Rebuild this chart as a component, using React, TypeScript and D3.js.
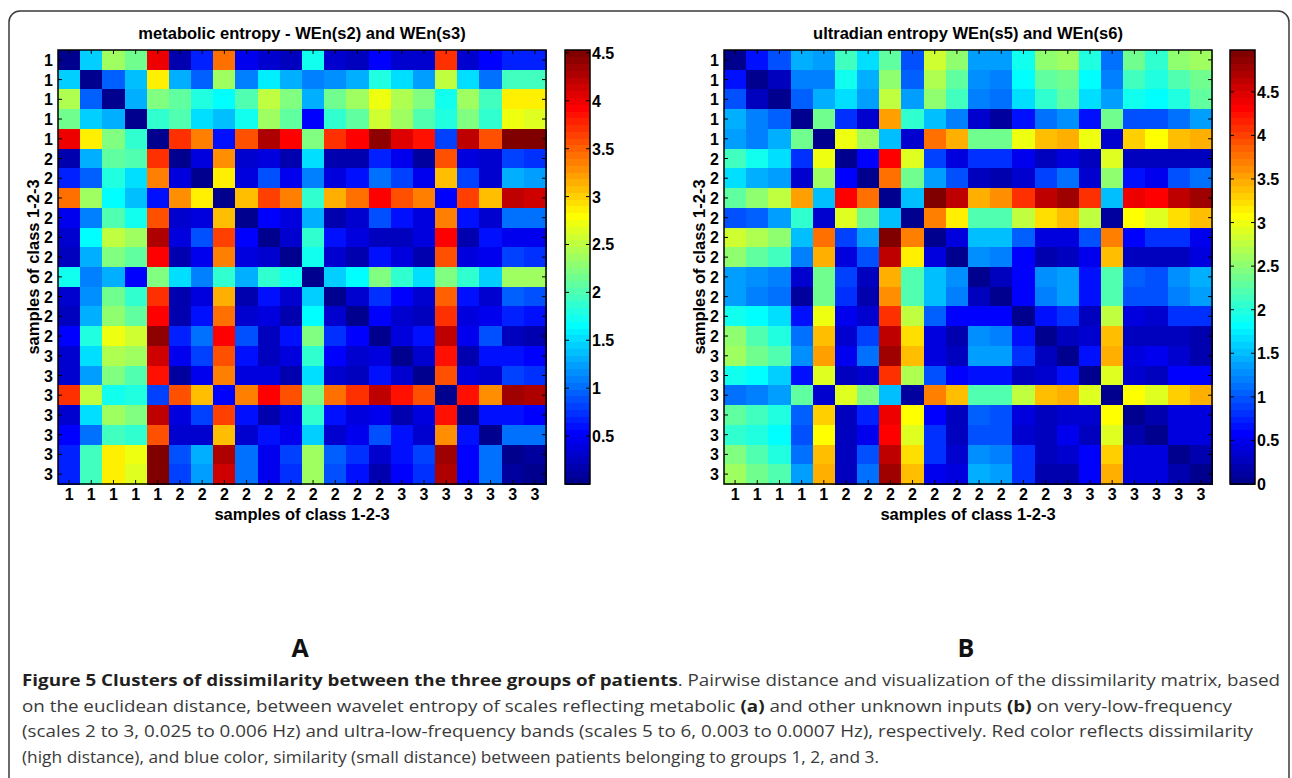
import * as d3 from "d3";
import { useEffect, useRef } from "react";

// sample class of each row / column (22 patients)
const classLabels = ["1", "1", "1", "1", "1", "2", "2", "2", "2", "2", "2", "2", "2", "2", "2", "3", "3", "3", "3", "3", "3", "3"];

// pairwise distance, WEn(s2) and WEn(s3)
const metabolicRows: number[][] = [
  [0, 1.45, 2.4, 2.15, 4.0, 0.15, 0.65, 3.4, 0.45, 0.3, 0.25, 1.7, 0.35, 0.25, 0.5, 0.35, 0.35, 3.7, 0.3, 0.5, 0.65, 0.65],
  [1.45, 0, 0.95, 1.4, 2.9, 1.3, 0.95, 2.35, 1.13, 1.6, 1.3, 1.1, 1.2, 1.3, 1.8, 1.5, 1.25, 2.5, 1.5, 1.0, 1.95, 1.95],
  [2.45, 0.95, 0, 1.3, 2.2, 2.1, 1.8, 1.65, 2.0, 2.5, 2.25, 1.3, 2.15, 2.35, 2.7, 2.45, 2.2, 1.7, 2.4, 1.95, 2.85, 2.85],
  [2.15, 1.45, 1.3, 0, 1.85, 2.0, 1.55, 1.4, 1.75, 2.4, 2.1, 0.5, 1.85, 2.1, 2.55, 2.35, 2.0, 1.8, 2.25, 1.85, 2.7, 2.65],
  [4.0, 2.9, 2.2, 1.85, 0, 3.7, 3.35, 0.6, 3.55, 4.25, 3.9, 2.25, 3.7, 3.9, 4.45, 4.1, 3.85, 0.8, 4.2, 3.6, 4.53, 4.53],
  [0.15, 1.3, 2.1, 2.0, 3.7, 0, 0.4, 3.3, 0.35, 0.4, 0.2, 1.5, 0.2, 0.2, 0.65, 0.45, 0.1, 3.55, 0.4, 0.3, 0.8, 0.75],
  [0.65, 0.95, 1.8, 1.55, 3.35, 0.4, 0, 2.9, 0.4, 0.9, 0.45, 1.1, 0.4, 0.6, 1.05, 0.8, 0.45, 3.1, 0.8, 0.3, 1.3, 1.25],
  [3.4, 2.35, 1.65, 1.4, 0.6, 3.3, 2.9, 0, 3.05, 3.65, 3.35, 1.85, 3.15, 3.4, 3.9, 3.6, 3.35, 0.55, 3.65, 3.1, 4.2, 4.15],
  [0.45, 1.13, 2.0, 1.75, 3.55, 0.35, 0.4, 3.05, 0, 0.55, 0.4, 1.3, 0.2, 0.35, 0.9, 0.6, 0.4, 3.35, 0.6, 0.35, 1.05, 1.0],
  [0.3, 1.65, 2.5, 2.4, 4.25, 0.4, 0.9, 3.65, 0.55, 0, 0.35, 1.9, 0.6, 0.4, 0.25, 0.25, 0.4, 3.95, 0.2, 0.6, 0.45, 0.45],
  [0.25, 1.3, 2.25, 2.1, 3.9, 0.2, 0.45, 3.35, 0.4, 0.35, 0, 1.7, 0.3, 0.2, 0.6, 0.4, 0.2, 3.6, 0.4, 0.45, 0.8, 0.75],
  [1.7, 1.1, 1.3, 0.5, 2.25, 1.5, 1.1, 1.85, 1.3, 1.9, 1.7, 0, 1.45, 1.65, 2.2, 1.85, 1.55, 2.25, 1.85, 1.45, 2.35, 2.35],
  [0.35, 1.2, 2.15, 1.85, 3.7, 0.2, 0.4, 3.15, 0.2, 0.6, 0.3, 1.45, 0, 0.35, 0.75, 0.5, 0.3, 3.5, 0.6, 0.35, 0.95, 0.9],
  [0.25, 1.3, 2.3, 2.1, 3.9, 0.2, 0.6, 3.4, 0.35, 0.4, 0.2, 1.65, 0.35, 0, 0.55, 0.35, 0.25, 3.75, 0.4, 0.45, 0.7, 0.6],
  [0.5, 1.8, 2.7, 2.55, 4.45, 0.65, 1.05, 3.9, 0.9, 0.25, 0.6, 2.2, 0.75, 0.55, 0, 0.4, 0.6, 4.2, 0.45, 0.9, 0.25, 0.2],
  [0.35, 1.5, 2.45, 2.35, 4.15, 0.45, 0.8, 3.6, 0.6, 0.25, 0.4, 1.85, 0.5, 0.35, 0.4, 0, 0.3, 3.85, 0.2, 0.6, 0.6, 0.5],
  [0.35, 1.25, 2.2, 2.0, 3.85, 0.1, 0.45, 3.35, 0.4, 0.4, 0.2, 1.55, 0.3, 0.25, 0.6, 0.3, 0, 3.55, 0.4, 0.35, 0.8, 0.75],
  [3.7, 2.5, 1.7, 1.8, 0.8, 3.55, 3.1, 0.55, 3.35, 3.95, 3.6, 2.25, 3.45, 3.75, 4.2, 3.85, 3.55, 0, 3.85, 3.3, 4.35, 4.3],
  [0.3, 1.5, 2.4, 2.25, 4.2, 0.4, 0.8, 3.65, 0.6, 0.2, 0.4, 1.85, 0.6, 0.4, 0.45, 0.2, 0.4, 3.85, 0, 0.6, 0.6, 0.55],
  [0.5, 1.0, 1.95, 1.85, 3.6, 0.3, 0.3, 3.1, 0.35, 0.6, 0.45, 1.45, 0.35, 0.45, 0.9, 0.6, 0.35, 3.3, 0.6, 0, 1.05, 1.0],
  [0.65, 1.95, 2.85, 2.75, 4.53, 0.85, 1.3, 4.25, 1.05, 0.45, 0.8, 2.35, 0.95, 0.75, 0.3, 0.6, 0.8, 4.35, 0.55, 1.05, 0, 0.1],
  [0.65, 1.95, 2.85, 2.65, 4.53, 0.8, 1.25, 4.15, 1.0, 0.45, 0.75, 2.35, 0.9, 0.6, 0.2, 0.5, 0.75, 4.3, 0.55, 1.0, 0.1, 0],
];

// pairwise distance, WEn(s5) and WEn(s6)
const ultradianRows: number[][] = [
  [0, 0.7, 1.0, 1.45, 1.4, 2.15, 1.65, 2.3, 1.0, 2.85, 2.5, 1.35, 1.4, 1.87, 2.5, 2.6, 2.0, 1.15, 2.35, 2.1, 2.5, 2.6],
  [0.7, 0, 0.3, 1.2, 1.2, 1.87, 1.45, 2.55, 1.05, 2.65, 2.3, 1.25, 1.2, 1.8, 2.3, 2.4, 1.85, 1.2, 2.15, 2.0, 2.2, 2.35],
  [1.0, 0.3, 0, 1.05, 1.45, 1.7, 1.35, 2.8, 1.4, 2.55, 2.15, 1.2, 1.15, 1.65, 2.1, 2.3, 1.65, 1.4, 1.9, 1.8, 1.95, 2.3],
  [1.45, 1.2, 1.05, 0, 2.4, 0.8, 0.35, 3.55, 2.1, 1.55, 1.2, 0.35, 0.15, 0.7, 1.15, 1.25, 0.7, 2.35, 1.0, 1.0, 1.15, 1.35],
  [1.4, 1.2, 1.45, 2.4, 0, 3.0, 2.6, 1.55, 0.35, 3.8, 3.45, 2.4, 2.4, 3.0, 3.35, 3.5, 3.0, 0.35, 3.3, 3.1, 3.35, 3.5],
  [2.15, 1.87, 1.7, 0.8, 3.0, 0, 0.6, 4.3, 2.95, 0.9, 0.45, 0.85, 0.8, 0.5, 0.3, 0.45, 0.3, 2.95, 0.25, 0.25, 0.3, 0.3],
  [1.65, 1.45, 1.35, 0.35, 2.6, 0.6, 0, 3.75, 2.35, 1.35, 1.0, 0.25, 0.2, 0.35, 0.9, 1.15, 0.35, 2.5, 0.7, 0.5, 1.0, 1.15],
  [2.3, 2.55, 2.8, 3.55, 1.55, 4.3, 3.75, 0, 1.55, 4.98, 4.6, 3.45, 3.6, 4.05, 4.6, 4.75, 4.1, 1.5, 4.4, 4.3, 4.6, 4.75],
  [1.0, 1.05, 1.4, 2.1, 0.35, 2.95, 2.35, 1.55, 0, 3.7, 3.15, 2.2, 2.2, 2.75, 3.2, 3.4, 2.75, 0.1, 3.1, 2.95, 3.2, 3.4],
  [2.85, 2.65, 2.55, 1.55, 3.8, 0.9, 1.35, 4.98, 3.7, 0, 0.45, 1.55, 1.5, 1.05, 0.45, 0.45, 1.0, 3.7, 0.6, 0.8, 0.8, 0.5],
  [2.5, 2.3, 2.15, 1.2, 3.45, 0.45, 1.0, 4.6, 3.15, 0.45, 0, 1.25, 1.2, 0.6, 0.2, 0.25, 0.5, 3.4, 0.3, 0.3, 0.3, 0.45],
  [1.4, 1.25, 1.2, 0.35, 2.4, 0.9, 0.25, 3.45, 2.2, 1.55, 1.25, 0, 0.3, 0.6, 1.25, 1.4, 0.65, 2.2, 1.05, 1.0, 1.25, 1.45],
  [1.4, 1.2, 1.15, 0.15, 2.35, 0.85, 0.2, 3.6, 2.2, 1.5, 1.2, 0.3, 0, 0.6, 1.2, 1.35, 0.65, 2.2, 1.0, 1.0, 1.2, 1.35],
  [1.87, 1.8, 1.65, 0.7, 3.0, 0.5, 0.35, 4.05, 2.75, 1.05, 0.6, 0.6, 0.6, 0, 0.65, 0.85, 0.3, 2.8, 0.4, 0.35, 0.85, 0.85],
  [2.5, 2.25, 2.0, 1.15, 3.35, 0.35, 0.9, 4.6, 3.2, 0.45, 0.2, 1.25, 1.2, 0.65, 0, 0.25, 0.35, 3.35, 0.3, 0.3, 0.3, 0.2],
  [2.6, 2.4, 2.25, 1.3, 3.55, 0.5, 1.15, 4.75, 3.35, 0.4, 0.3, 1.4, 1.35, 0.85, 0.25, 0, 0.7, 3.45, 0.4, 0.5, 0.35, 0.2],
  [1.9, 1.85, 1.6, 0.7, 2.95, 0.3, 0.35, 4.1, 2.7, 1.0, 0.55, 0.65, 0.65, 0.3, 0.35, 0.7, 0, 2.9, 0.35, 0.25, 0.6, 0.55],
  [1.15, 1.2, 1.4, 2.3, 0.35, 2.95, 2.45, 1.5, 0.1, 3.7, 3.35, 2.2, 2.2, 2.8, 3.35, 3.45, 2.9, 0, 3.1, 2.95, 3.3, 3.45],
  [2.3, 2.15, 1.95, 1.05, 3.3, 0.25, 0.75, 4.4, 3.05, 0.6, 0.3, 1.05, 1.0, 0.45, 0.3, 0.35, 0.35, 3.1, 0, 0.2, 0.45, 0.45],
  [2.1, 1.95, 1.85, 1.0, 3.1, 0.25, 0.5, 4.3, 2.95, 0.8, 0.3, 1.0, 1.0, 0.35, 0.3, 0.5, 0.25, 2.95, 0.2, 0, 0.45, 0.45],
  [2.45, 2.2, 1.95, 1.15, 3.35, 0.3, 0.95, 4.6, 3.2, 0.8, 0.35, 1.25, 1.2, 0.85, 0.3, 0.35, 0.6, 3.3, 0.45, 0.45, 0, 0.2],
  [2.6, 2.35, 2.25, 1.35, 3.5, 0.3, 1.15, 4.75, 3.4, 0.5, 0.45, 1.45, 1.35, 0.85, 0.2, 0.2, 0.55, 3.45, 0.45, 0.45, 0.2, 0],
];

// colour limits and colorbar ticks
const metabolicMax = 4.53;
const ultradianMax = 4.98;
const metabolicTicks = [0.5, 1, 1.5, 2, 2.5, 3, 3.5, 4, 4.5];
const ultradianTicks = [0, 0.5, 1, 1.5, 2, 2.5, 3, 3.5, 4, 4.5];

const captionLines = [
  [
    { t: "Figure 5 Clusters of dissimilarity between the three groups of patients", b: true },
    { t: ". Pairwise distance and visualization of the dissimilarity matrix, based", b: false },
  ],
  [
    { t: "on the euclidean distance, between wavelet entropy of scales reflecting metabolic ", b: false },
    { t: "(a)", b: true },
    { t: " and other unknown inputs ", b: false },
    { t: "(b)", b: true },
    { t: " on very-low-frequency", b: false },
  ],
  [
    { t: "(scales 2 to 3, 0.025 to 0.006 Hz) and ultra-low-frequency bands (scales 5 to 6, 0.003 to 0.0007 Hz), respectively. Red color reflects dissimilarity", b: false },
  ],
  [
    { t: "(high distance), and blue color, similarity (small distance) between patients belonging to groups 1, 2, and 3.", b: false },
  ],
];

const FONT = "'Liberation Sans', Arial, sans-serif";
const CAPTION_FONT = "'Open Sans', 'Noto Sans', sans-serif";

// MATLAB jet(64), i = 1..64
const jet64 = (i: number) => {
  const r = i <= 24 ? 0 : i <= 40 ? (i - 24) / 16 : i <= 56 ? 1 : (72 - i) / 16;
  const g = i <= 8 ? 0 : i <= 24 ? (i - 8) / 16 : i <= 40 ? 1 : (56 - i) / 16;
  const b = i <= 8 ? (i + 8) / 16 : i <= 24 ? 1 : i <= 40 ? (40 - i) / 16 : 0;
  return d3.rgb(r * 255, g * 255, b * 255).formatHex();
};
const jetColors = d3.range(1, 65).map(jet64);

interface PanelOpts {
  rows: number[][];
  max: number;
  ticks: number[];
  title: string;
  left: number;
  barLeft: number;
  letter: string;
}

const TOP = 50;
const BOTTOM = 484;
const MAP_W = 488;

function drawPanel(svg: d3.Selection<SVGSVGElement, unknown, null, undefined>, o: PanelOpts) {
  const n = o.rows.length;
  const x = d3.scaleBand<number>().domain(d3.range(n)).range([o.left, o.left + MAP_W]);
  const y = d3.scaleBand<number>().domain(d3.range(n)).range([TOP, BOTTOM]);
  const color = d3.scaleQuantize<string>().domain([0, o.max]).range(jetColors);
  const cx = o.left + MAP_W / 2;

  const g = svg.append("g");

  // title
  g.append("text")
    .attr("x", cx)
    .attr("y", 39)
    .attr("text-anchor", "middle")
    .attr("font-family", FONT)
    .attr("font-weight", "bold")
    .attr("font-size", 16.5)
    .text(o.title);

  // cells
  const cells = o.rows.flatMap((row, i) => row.map((v, j) => ({ i, j, v })));
  g.append("g")
    .attr("shape-rendering", "crispEdges")
    .selectAll("rect")
    .data(cells)
    .join("rect")
    .attr("x", d => x(d.j)!)
    .attr("y", d => y(d.i)!)
    .attr("width", x.bandwidth() + 0.5)
    .attr("height", y.bandwidth() + 0.5)
    .attr("fill", d => color(d.v));

  // inner ticks
  const bw = x.bandwidth() / 2;
  const bh = y.bandwidth() / 2;
  const tk = g.append("g").attr("stroke", "#000").attr("stroke-width", 1);
  d3.range(n).forEach(k => {
    const tx = x(k)! + bw;
    tk.append("line").attr("x1", tx).attr("x2", tx).attr("y1", TOP).attr("y2", TOP + 4);
    tk.append("line").attr("x1", tx).attr("x2", tx).attr("y1", BOTTOM).attr("y2", BOTTOM - 4);
    const ty = y(k)! + bh;
    tk.append("line").attr("y1", ty).attr("y2", ty).attr("x1", o.left).attr("x2", o.left + 4);
    tk.append("line").attr("y1", ty).attr("y2", ty).attr("x1", o.left + MAP_W).attr("x2", o.left + MAP_W - 4);
  });

  // frame
  g.append("rect")
    .attr("x", o.left)
    .attr("y", TOP)
    .attr("width", MAP_W)
    .attr("height", BOTTOM - TOP)
    .attr("fill", "none")
    .attr("stroke", "#000")
    .attr("stroke-width", 1.5);

  // tick labels
  const lab = g.append("g")
    .attr("font-family", FONT)
    .attr("font-weight", "bold")
    .attr("font-size", 16);
  classLabels.forEach((c, k) => {
    lab.append("text")
      .attr("x", x(k)! + bw)
      .attr("y", BOTTOM + 16)
      .attr("text-anchor", "middle")
      .text(c);
    lab.append("text")
      .attr("x", o.left - 5)
      .attr("y", y(k)! + bh + 6)
      .attr("text-anchor", "end")
      .text(c);
  });

  // axis titles
  lab.append("text")
    .attr("x", cx)
    .attr("y", BOTTOM + 36)
    .attr("font-size", 16.5)
    .attr("text-anchor", "middle")
    .text("samples of class 1-2-3");
  lab.append("text")
    .attr("transform", `translate(${o.left - 19},${(TOP + BOTTOM) / 2}) rotate(-90)`)
    .attr("font-size", 16.5)
    .attr("text-anchor", "middle")
    .text("samples of class 1-2-3");

  // colorbar
  const cb = d3.scaleLinear().domain([0, o.max]).range([BOTTOM, TOP]);
  const barW = 25;
  const step = o.max / 64;
  g.append("g")
    .attr("shape-rendering", "crispEdges")
    .selectAll("rect")
    .data(jetColors)
    .join("rect")
    .attr("x", o.barLeft)
    .attr("y", (_, k) => cb((k + 1) * step))
    .attr("width", barW)
    .attr("height", (_, k) => cb(k * step) - cb((k + 1) * step) + 0.5)
    .attr("fill", d => d);
  const cbt = g.append("g").attr("stroke", "#000").attr("stroke-width", 1);
  o.ticks.forEach(t => {
    const ty = cb(t);
    cbt.append("line").attr("x1", o.barLeft).attr("x2", o.barLeft + 4).attr("y1", ty).attr("y2", ty);
    cbt.append("line").attr("x1", o.barLeft + barW).attr("x2", o.barLeft + barW - 4).attr("y1", ty).attr("y2", ty);
    lab.append("text")
      .attr("x", o.barLeft + barW + 2)
      .attr("y", ty + 6)
      .text(String(t));
  });
  g.append("rect")
    .attr("x", o.barLeft)
    .attr("y", TOP)
    .attr("width", barW)
    .attr("height", BOTTOM - TOP)
    .attr("fill", "none")
    .attr("stroke", "#000")
    .attr("stroke-width", 1.5);

  // panel letter
  g.append("text")
    .attr("x", cx - 2)
    .attr("y", 657)
    .attr("text-anchor", "middle")
    .attr("font-family", CAPTION_FONT)
    .attr("font-weight", "bold")
    .attr("font-size", 25)
    .attr("fill", "#111")
    .text(o.letter);
}

const App = () => {
  const svgRef = useRef<SVGSVGElement>(null);

  useEffect(() => {
    if (!svgRef.current) return;
    const svg = d3.select(svgRef.current);
    svg.selectAll("*").remove();

    // figure frame
    svg.append("rect")
      .attr("x", 9)
      .attr("y", 11)
      .attr("width", 1280)
      .attr("height", 800)
      .attr("rx", 11)
      .attr("fill", "#fff")
      .attr("stroke", "#3a3a3a")
      .attr("stroke-width", 1.5);

    drawPanel(svg, {
      rows: metabolicRows,
      max: metabolicMax,
      ticks: metabolicTicks,
      title: "metabolic entropy - WEn(s2) and WEn(s3)",
      left: 58,
      barLeft: 565,
      letter: "A",
    });
    drawPanel(svg, {
      rows: ultradianRows,
      max: ultradianMax,
      ticks: ultradianTicks,
      title: "ultradian entropy WEn(s5) and WEn(s6)",
      left: 724,
      barLeft: 1230,
      letter: "B",
    });

    // caption
    const lineWidths = [1258, 1210, 1231, 857];
    captionLines.forEach((parts, li) => {
      const t = svg.append("text")
        .attr("x", 22)
        .attr("y", 686 + li * 25.7)
        .attr("font-family", CAPTION_FONT)
        .attr("font-size", 16.5)
        .attr("textLength", lineWidths[li])
        .attr("lengthAdjust", "spacingAndGlyphs")
        .attr("xml:space", "preserve");
      parts.forEach(p => {
        t.append("tspan")
          .attr("font-weight", p.b ? "bold" : "normal")
          .attr("fill", p.b ? "#231f20" : "#3a3a3a")
          .text(p.t);
      });
    });
  }, []);

  return (
    <svg
      ref={svgRef}
      width={1292}
      height={778}
      style={{ position: "absolute", left: 0, top: 0, background: "#fff" }}
    />
  );
};

export default App;
